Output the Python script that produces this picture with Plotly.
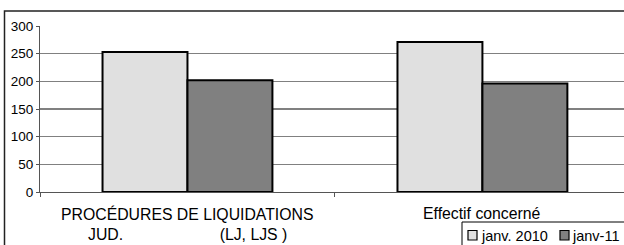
import plotly.graph_objects as go

categories = ["PROCÉDURES DE LIQUIDATIONS JUD. (LJ, LJS )", "Effectif concerné"]
label_line1 = ["PROCÉDURES DE LIQUIDATIONS", "Effectif concerné"]
label_line2 = ["JUD." + "\u00a0" * 22 + "(LJ, LJS )", ""]
series_names = ["janv. 2010", "janv-11"]
series_colors = ["#E0E0E0", "#808080"]
values_2010 = [253, 271]
values_2011 = [202, 196]
y_ticks = [0, 50, 100, 150, 200, 250, 300]

FONT = "Liberation Sans, Arial, sans-serif"

# plot-area geometry helpers (pixel -> paper)
L, R, T, B = 40, 0, 26, 53
W, H = 624, 245
PW, PH = W - L - R, H - T - B
def px(x):
    return (x - L) / PW
def py(y):
    return (H - B - y) / PH

fig = go.Figure()
for name, vals, col in zip(series_names, [values_2010, values_2011], series_colors):
    fig.add_trace(go.Bar(x=categories, y=vals, name=name, showlegend=False,
                         marker=dict(color=col, line=dict(color="#000000", width=2))))

for i, c in enumerate(categories):
    fig.add_annotation(x=c, xref="x", y=py(213.5), yref="paper", text=label_line1[i],
                       showarrow=False, font=dict(family=FONT, size=15.8, color="#000"),
                       xanchor="center", yanchor="middle")
    if label_line2[i]:
        fig.add_annotation(x=c, xref="x", y=py(234.5), yref="paper", text=label_line2[i],
                           showarrow=False, font=dict(family=FONT, size=15.8, color="#000"),
                           xanchor="center", yanchor="middle")

# outer chart frame
fig.add_shape(type="rect", xref="paper", yref="paper",
              x0=px(4.5), x1=px(640), y0=py(260), y1=py(11),
              line=dict(color="#222222", width=1.5), fillcolor="rgba(0,0,0,0)", layer="above")

# legend box (drawn manually for exact placement)
fig.add_shape(type="rect", xref="paper", yref="paper",
              x0=px(462), x1=px(640), y0=py(260), y1=py(222),
              line=dict(color="#000", width=1), fillcolor="white", layer="above")
leg_sq_x = [468, 560]
leg_tx_x = [479, 570]
for name, col, sx, tx in zip(series_names, series_colors, leg_sq_x, leg_tx_x):
    fig.add_shape(type="rect", xref="paper", yref="paper",
                  x0=px(sx), x1=px(sx + 9), y0=py(240), y1=py(230.5),
                  line=dict(color="#000", width=1.2), fillcolor=col, layer="above")
    fig.add_annotation(x=px(tx), xref="paper", y=py(235.5), yref="paper", text=name,
                       showarrow=False, font=dict(family=FONT, size=14.5, color="#000"),
                       xanchor="left", yanchor="middle")

fig.update_layout(
    width=W, height=H,
    margin=dict(l=L, r=R, t=T, b=B, autoexpand=False),
    paper_bgcolor="white", plot_bgcolor="white",
    barmode="group", bargap=0.424, bargroupgap=0,
    showlegend=False,
    font=dict(family=FONT, color="#000"),
    xaxis=dict(type="category", range=[-0.5, 1.48], showticklabels=False,
               tickson="boundaries", ticks="outside", ticklen=4, tickcolor="#555",
               showline=True, linecolor="#555", linewidth=1, showgrid=False),
    yaxis=dict(range=[0, 300], tickvals=y_ticks, ticks="outside", ticklen=3,
               tickcolor="#555", showline=True, linecolor="#555", linewidth=1,
               showgrid=True, gridcolor="#808080", gridwidth=1.5, zeroline=False,
               tickfont=dict(family=FONT, size=13.5, color="#000")),
)

fig.write_html("out.html", config={"displayModeBar": False, "staticPlot": True},
               post_script="document.body.style.margin='0px';document.body.style.overflow='hidden';")
